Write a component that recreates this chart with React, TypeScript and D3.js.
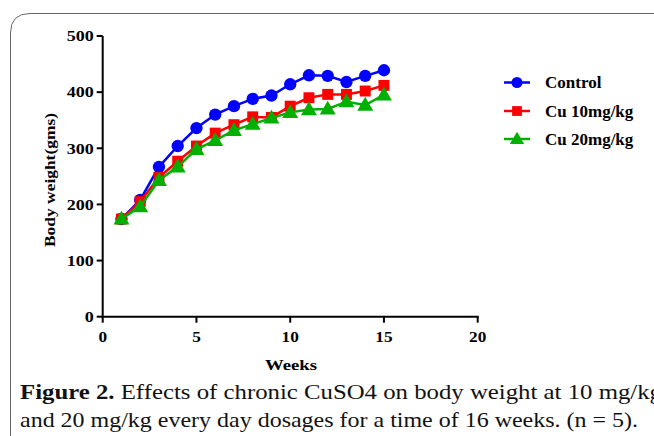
import React from "react";
import * as d3 from "d3";

const weeks = [1, 2, 3, 4, 5, 6, 7, 8, 9, 10, 11, 12, 13, 14, 15];
const control = [174, 208, 267, 304, 336, 360, 375, 388, 394, 414, 430, 429, 418, 429, 439];
const cu10 = [174, 205, 248, 277, 304, 327, 342, 356, 355, 375, 390, 396, 396, 402, 412];
const cu20 = [174, 196, 243, 267, 298, 314, 332, 343, 354, 364, 369, 370, 383, 377, 395];
const xTicks = [0, 5, 10, 15, 20];
const yTicks = [0, 100, 200, 300, 400, 500];

const seriesNames = ["Control", "Cu 10mg/kg", "Cu 20mg/kg"];
const seriesColors = ["#0000ff", "#ff0000", "#00b000"];
const seriesShapes = [d3.symbolCircle, d3.symbolSquare, d3.symbolTriangle];
const seriesSizes = [120, 120, 110];

const font = "'Liberation Serif', 'Times New Roman', serif";

export default function App() {
  const x = d3.scaleLinear().domain([0, 20]).range([102.7, 477.7]);
  const y = d3.scaleLinear().domain([0, 500]).range([316.7, 36]);
  const line = d3
    .line<number>()
    .x((_, i) => x(weeks[i]))
    .y((d) => y(d));
  const all = [control, cu10, cu20];
  const legendY = [82.5, 111, 139];

  return (
    <svg
      width={654}
      height={436}
      style={{ position: "absolute", left: 0, top: 0, background: "#fff" }}
    >
      {/* frame */}
      <path
        d="M10.5,436 L10.5,33 Q10.5,13.5 30,13.5 L654,13.5"
        fill="none"
        stroke="#666"
        strokeWidth={1}
      />
      <g fontFamily={font} fontWeight="bold" fontSize={15} fill="#000">
        {/* y axis */}
        <line x1={x(0)} x2={x(0)} y1={y(0) + 1} y2={y(500)} stroke="#000" strokeWidth={2} />
        {yTicks.map((t) => (
          <g key={t}>
            <line x1={x(0) - 6} x2={x(0)} y1={y(t)} y2={y(t)} stroke="#000" strokeWidth={2} />
            <text
              transform={`translate(${x(0) - 9},${y(t)}) scale(1.2,1)`}
              dy="0.35em"
              textAnchor="end"
            >
              {t}
            </text>
          </g>
        ))}
        {/* x axis */}
        <line x1={x(0) - 1} x2={x(20) + 1} y1={y(0)} y2={y(0)} stroke="#000" strokeWidth={2} />
        {xTicks.map((t) => (
          <g key={t}>
            <line x1={x(t)} x2={x(t)} y1={y(0)} y2={y(0) + 6} stroke="#000" strokeWidth={2} />
            <text
              transform={`translate(${x(t)},342) scale(1.15,1)`}
              textAnchor="middle"
            >
              {t}
            </text>
          </g>
        ))}
        <text x={265} y={370} textLength={52} lengthAdjust="spacingAndGlyphs">
          Weeks
        </text>
        <text
          transform={`translate(55,180) rotate(-90)`}
          x={-67}
          textLength={134}
          lengthAdjust="spacingAndGlyphs"
          fontSize={15.5}
        >
          Body weight(gms)
        </text>
      </g>

      {all.map((s, k) => (
        <g key={k}>
          <path d={line(s) ?? ""} fill="none" stroke={seriesColors[k]} strokeWidth={2.5} />
          {s.map((v, i) => (
            <path
              key={i}
              transform={`translate(${x(weeks[i])},${y(v) + (k === 2 ? 1 : 0)})`}
              d={d3.symbol().type(seriesShapes[k]).size(seriesSizes[k])() ?? ""}
              fill={seriesColors[k]}
            />
          ))}
        </g>
      ))}

      {/* legend */}
      <g fontFamily={font} fontWeight="bold" fontSize={17}>
        {seriesNames.map((n, k) => {
          const ly = legendY[k];
          return (
            <g key={n}>
              <line x1={504} x2={530} y1={ly} y2={ly} stroke={seriesColors[k]} strokeWidth={2.5} />
              <path
                transform={`translate(517,${ly + (k === 2 ? 1 : 0)})`}
                d={d3.symbol().type(seriesShapes[k]).size(seriesSizes[k] * 0.8)() ?? ""}
                fill={seriesColors[k]}
              />
              <text x={545} y={ly} dy="0.35em">
                {n}
              </text>
            </g>
          );
        })}
      </g>

      {/* caption */}
      <g fontFamily={font} fontSize={21} fill="#111">
        <text x={20} y={399} textLength={642} lengthAdjust="spacingAndGlyphs">
          <tspan fontWeight="bold">Figure 2.</tspan> Effects of chronic CuSO4 on body weight at 10 mg/kg
        </text>
        <text x={20} y={427} textLength={618} lengthAdjust="spacingAndGlyphs">
          and 20 mg/kg every day dosages for a time of 16 weeks. (n = 5).
        </text>
      </g>
    </svg>
  );
}
